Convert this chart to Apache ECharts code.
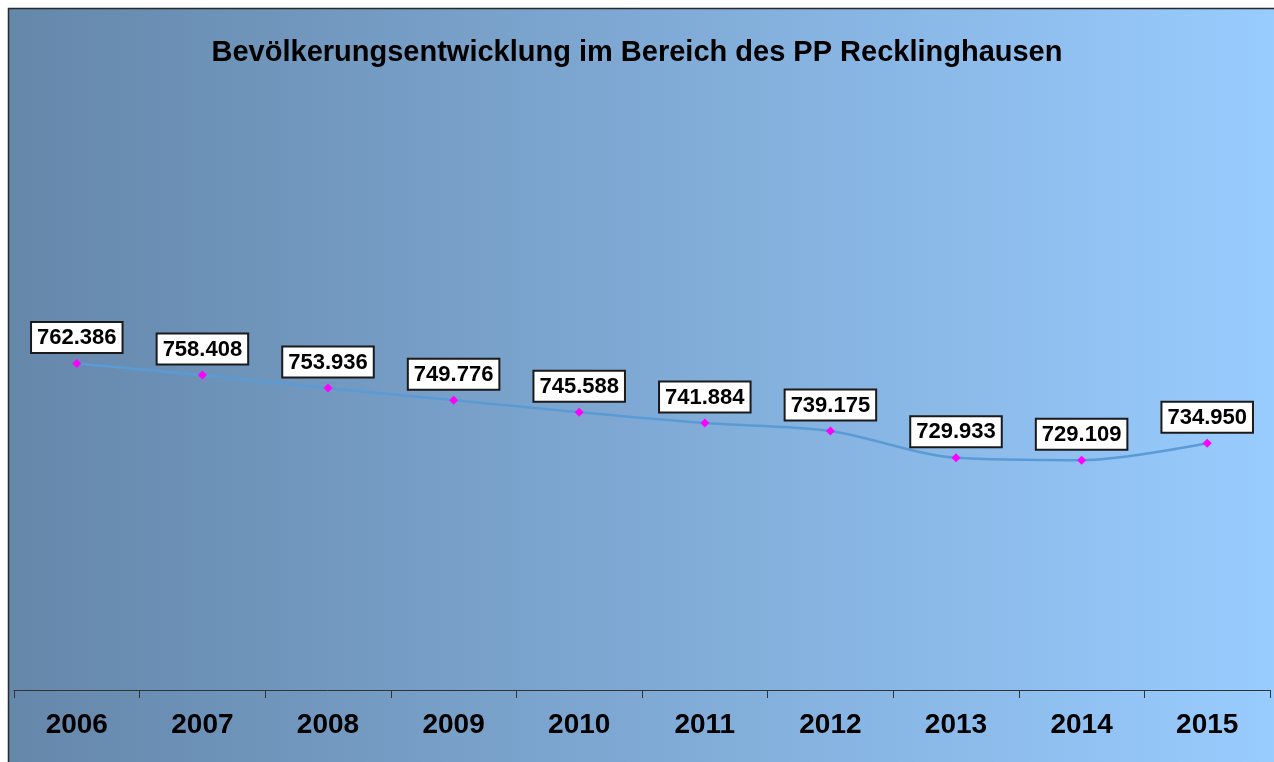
<!DOCTYPE html>
<html>
<head>
<meta charset="utf-8">
<script src="https://cdn.jsdelivr.net/npm/echarts@6/dist/echarts.min.js"></script>
<style>
html,body{margin:0;padding:0;background:#fff;}
#chart{width:1274px;height:762px;}
</style>
</head>
<body>
<div id="chart"></div>
<script>
// Bevölkerung je Jahr
var years = ['2006', '2007', '2008', '2009', '2010', '2011', '2012', '2013', '2014', '2015'];
var einwohner = [762386, 758408, 753936, 749776, 745588, 741884, 739175, 729933, 729109, 734950];
var yMin = 650000;
var yMax = 850000;

function fmt(v){
	// deutsche Tausendertrennung
	return String(v).replace(/\B(?=(\d{3})+(?!\d))/g, '.');
}

var myChart = echarts.init(document.getElementById('chart'));
var option = {
	animation: false,
	graphic: [{
		type: 'rect',
		z: -10,
		shape: {x: 8.5, y: 8.5, width: 1270, height: 760},
		style: {
			fill: new echarts.graphic.LinearGradient(0, 0, 1, 0, [
				{offset: 0, color: '#6587aa'},
				{offset: 1, color: '#99ccff'}
			]),
			stroke: '#2a2a2a',
			lineWidth: 1.5
		}
	}],
	title: {
		text: 'Bevölkerungsentwicklung im Bereich des PP Recklinghausen',
		left: 'center',
		top: 33,
		textStyle: {
			fontFamily: 'Liberation Sans',
			fontWeight: 'bold',
			fontSize: 29,
			color: '#000'
		}
	},
	grid: {
		left: 14,
		right: 4,
		top: 109,
		bottom: 72,
		containLabel: false
	},
	xAxis: {
		type: 'category',
		data: years,
		boundaryGap: true,
		axisLine: {lineStyle: {color: '#333', width: 1}},
		axisTick: {show: true, length: 8, lineStyle: {color: '#333'}},
		axisLabel: {
			margin: 21,
			fontFamily: 'Liberation Sans',
			fontWeight: 'bold',
			fontSize: 28,
			color: '#000'
		}
	},
	yAxis: {
		type: 'value',
		min: yMin,
		max: yMax,
		show: false
	},
	series: [{
		type: 'line',
		data: einwohner,
		smooth: 0.3,
		symbol: 'diamond',
		symbolSize: 9,
		itemStyle: {color: '#ff00ff'},
		lineStyle: {color: '#5b9bd5', width: 2.5},
		label: {
			show: true,
			position: 'top',
			distance: 7,
			formatter: function(p){ return fmt(p.value); },
			fontFamily: 'Liberation Sans',
			fontWeight: 'bold',
			fontSize: 22,
			color: '#000',
			backgroundColor: '#fff',
			borderColor: '#1a1a1a',
			borderWidth: 2,
			padding: [4, 5, 3, 5]
		}
	}]
};
myChart.setOption(option);
</script>
</body>
</html>
